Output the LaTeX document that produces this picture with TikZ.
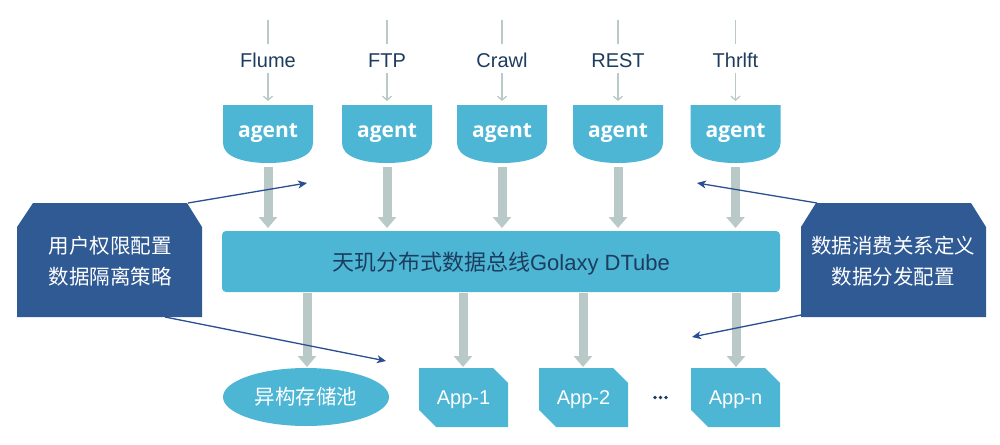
\documentclass[tikz,border=0pt]{standalone}
\usepackage{fontspec}
\setmainfont{Liberation Sans}
\newfontfamily\cjk{Noto Sans CJK SC}
\newfontfamily\agentfont{Open Sans}
\usetikzlibrary{arrows.meta,shapes.geometric}
\definecolor{lblue}{HTML}{4DB6D5}
\definecolor{dblue}{HTML}{2F5A94}
\definecolor{gflow}{HTML}{B9C9C7}
\definecolor{navy}{HTML}{1D3D5E}
\definecolor{linkc}{HTML}{2B4E92}
\tikzset{
  srclabel/.style={font=\fontsize{20}{24}\selectfont, text=navy, inner sep=0pt, anchor=base},
  agenttext/.style={font=\agentfont\bfseries\fontsize{21}{24}\selectfont, text=white, inner sep=0pt, anchor=base},
  thinflow/.style={draw=gflow, line width=1.3pt},
  thinarrow/.style={thinflow, -{Straight Barb[length=4pt,width=9pt]}},
  thickflow/.style={draw=gflow, line width=9pt, -{Triangle[width=18pt,length=11pt]}, shorten >=0pt},
  link/.style={draw=linkc, line width=1.3pt, -{Stealth[length=9pt,width=8pt,inset=2.5pt]}},
  cjktext/.style={font=\cjk\fontsize{20.5}{31}\selectfont, text=white, align=center, inner sep=0pt},
  apptext/.style={font=\fontsize{20}{24}\selectfont, text=white, inner sep=0pt, anchor=base},
  dot/.style={fill=navy, circle, inner sep=0pt, minimum size=3.6pt},
}
\begin{document}
\begin{tikzpicture}[x=1pt,y=-1pt]
\useasboundingbox (0,0) rectangle (1000,444);
\fill[white] (0,0) rectangle (1000,444);

% agents
\foreach \n/\cx/\lab in {f/268/Flume, p/387/FTP, c/502/Crawl, r/618/REST, t/735.5/Thrlft}{
  \coordinate (top\n) at (\cx,20);
  \coordinate (topend\n) at (\cx,44);
  \node[srclabel] (lab\n) at (\cx,67) {\lab};
  \coordinate (lout\n) at (\cx,73);
  \coordinate (ain\n) at (\cx,101);
  \fill[lblue] (\cx-45,105) -- (\cx+45,105) -- (\cx+45,143)
     .. controls (\cx+45,157) and (\cx+24,163) .. (\cx,163)
     .. controls (\cx-24,163) and (\cx-45,157) .. (\cx-45,143) -- cycle;
  \node[agenttext] (ag\n) at (\cx,137) {agent};
  \coordinate (aout\n) at (\cx,167);
  \coordinate (busin\n) at (\cx,228);
  \draw[thinflow] (top\n) -- (topend\n);
  \draw[thinarrow] (lout\n) -- (ain\n);
  \draw[thickflow] (aout\n) -- (busin\n);
}

% bus
\fill[lblue, rounded corners=4pt] (222,231) rectangle (780,292);
\node[font=\fontsize{22}{26}\selectfont, text=navy, inner sep=0pt, anchor=base] (bus) at (501,270)
  {{\cjk 天玑分布式数据总线}Golaxy DTube};

% side boxes
\fill[dblue] (17,227) -- (33,203) -- (187,203) -- (202,227) -- (202,317) -- (17,317) -- cycle;
\node[cjktext] (lbox) at (110,261) {用户权限配置\\数据隔离策略};
\fill[dblue] (801,227) -- (816,203) -- (971,203) -- (986,227) -- (986,317) -- (801,317) -- cycle;
\node[cjktext] (rbox) at (893,261) {数据消费关系定义\\数据分发配置};

\coordinate (lboxtop) at (188,203);
\coordinate (lboxbot) at (165,317);
\coordinate (rboxtop) at (817,203);
\coordinate (rboxbot) at (801,315);
\coordinate (ltgt1) at (307,183);
\coordinate (ltgt2) at (386,361);
\coordinate (rtgt1) at (697,183);
\coordinate (rtgt2) at (692,337);

% bottom targets
\fill[lblue] (306,397) ellipse [x radius=83, y radius=29];
\node[cjktext, font=\cjk\fontsize{20.5}{24}\selectfont] (store) at (306,397) {异构存储池};
\foreach \n/\x/\lab in {a1/419/App-1, a2/539/App-2, an/691/App-n}{
  \fill[lblue] (\x,368) -- (\x+74,368) -- (\x+89,383) -- (\x+89,427) -- (\x+17,427) -- (\x,410) -- cycle;
  \node[apptext] (\n) at (\x+44.5,404) {\lab};
}
\node[dot] (d1) at (655,397.5) {};
\node[dot] (d2) at (660.5,397.5) {};
\node[dot] (d3) at (666,397.5) {};

\foreach \x in {307,463,583,736}{
  \draw[thickflow] (\x,293) -- (\x,367);
}

% links
\draw[link] (lboxtop) -- (ltgt1);
\draw[link] (lboxbot) -- (ltgt2);
\draw[link] (rboxtop) -- (rtgt1);
\draw[link] (rboxbot) -- (rtgt2);
\end{tikzpicture}
\end{document}
